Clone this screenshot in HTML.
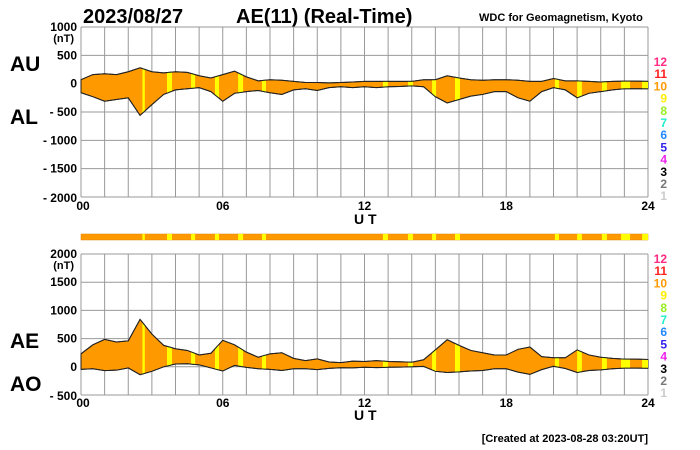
<!DOCTYPE html>
<html><head><meta charset="utf-8"><style>
html,body{margin:0;padding:0;background:#fff;}
svg{display:block;font-family:"Liberation Sans",sans-serif;}
</style></head><body>
<svg id="c" width="700" height="450" xmlns="http://www.w3.org/2000/svg">
<text x="83" y="23" font-size="20" font-weight="bold">2023/08/27</text>
<text x="236" y="23" font-size="20" font-weight="bold">AE(11) (Real-Time)</text>
<text x="479" y="21" font-size="11" font-weight="bold">WDC for Geomagnetism, Kyoto</text>
<text x="10" y="71" font-size="21" font-weight="bold">AU</text>
<text x="10" y="124" font-size="21" font-weight="bold">AL</text>
<text x="10" y="348" font-size="21" font-weight="bold">AE</text>
<text x="10" y="391" font-size="21" font-weight="bold">AO</text>
<text x="354" y="224" font-size="14" font-weight="bold">U T</text>
<text x="354" y="420" font-size="14" font-weight="bold">U T</text>
<text x="648" y="442" font-size="11" font-weight="bold" text-anchor="end">[Created at 2023-08-28 03:20UT]</text>
<g id="g"></g>
</svg>
<script>
const hours=[0,0.5,1,1.5,2,2.5,3,3.5,4,4.5,5,5.5,6,6.5,7,7.5,8,8.5,9,9.5,10,10.5,11,11.5,12,12.5,13,13.5,14,14.5,15,15.5,16,16.5,17,17.5,18,18.5,19,19.5,20,20.5,21,21.5,22,22.5,23,23.5,24];
const au=[70,160,175,160,210,280,210,190,210,200,140,100,160,220,120,50,70,60,40,20,20,15,20,30,40,40,40,40,40,70,70,140,100,70,60,70,70,60,40,40,90,50,50,40,30,40,45,45,40];
const al=[-160,-230,-310,-280,-250,-560,-370,-190,-110,-90,-70,-140,-310,-170,-140,-120,-160,-190,-110,-90,-120,-70,-55,-70,-55,-70,-55,-50,-40,-55,-230,-340,-280,-220,-190,-140,-140,-250,-310,-140,-70,-110,-250,-170,-140,-110,-90,-90,-90];
const yellowStart=[2.6,3.64,4.66,5.67,6.65,7.66,12.78,13.84,14.86,15.83,20.06,21.0,22.05,22.86,23.75];
const yellowEnd=[2.7,3.85,4.83,5.84,6.86,7.83,12.99,14.05,15.03,16.04,20.23,21.2,22.26,23.24,24];
const topTicks=[1000,500,0,-500,-1000,-1500,-2000];
const botTicks=[2000,1500,1000,500,0,-500];
const xTicks=["00","06","12","18","24"];
const levels=["12","11","10","9","8","7","6","5","4","3","2","1"];
const levelColors=["#ff2a80","#ff2020","#ff9900","#ffee00","#99ee22","#22eecc","#2288ff","#3322ee","#ee22ee","#000","#777","#ccc"];

const NS="http://www.w3.org/2000/svg",G=document.getElementById('g');
function el(t,a,p){const e=document.createElementNS(NS,t);for(const k in a)e.setAttribute(k,a[k]);(p||G).appendChild(e);return e;}
const X0=81,X1=648;
const xs=h=>X0+(X1-X0)*h/24;
function panel(id,yTop,yBot,vTop,vBot,ticks,upper,lower,xlabY,legY){
  const ys=v=>yTop+(vTop-v)/(vTop-vBot)*(yBot-yTop);
  const g=el('g',{});
  
  
  for(let h=0;h<=24;h++){const l=el('line',{x1:xs(h),x2:xs(h),y1:yTop,y2:yBot,stroke:'#999','stroke-width':1},g);
    }
  ticks.forEach((v,i)=>{const l=el('line',{x1:X0,x2:X1,y1:ys(v),y2:ys(v),stroke:'#999','stroke-width':1},g);
    
    const t=el('text',{x:77,y:ys(v)+(i==ticks.length-1?5:4),'font-size':12,'font-weight':'bold','text-anchor':'end'},g);
    t.textContent=v<0?'- '+(-v):String(v);
    });
  const nt=el('text',{x:74,y:ys(ticks[0])+15,'font-size':11,'font-weight':'bold','text-anchor':'end'},g);nt.textContent='(nT)';
  
  xTicks.forEach((s,i)=>{const t=el('text',{x:xs(i*6)+(i==0?2:0),y:xlabY,'font-size':12,'font-weight':'bold','text-anchor':'middle'},g);t.textContent=s;
    });
  let up=hours.map((h,i)=>xs(h)+','+ys(upper[i])).join(' ');
  let lo=hours.slice().reverse().map((h,j)=>{const i=hours.length-1-j;return xs(h)+','+ys(lower[i]);}).join(' ');
  const cp=el('clipPath',{id:'cl'+id},g);el('polygon',{points:up+' '+lo},cp);
  const a=el('polygon',{points:up+' '+lo,fill:'#ff9900',stroke:'#222','stroke-width':1},g);
  
  const yg=el('g',{'clip-path':'url(#cl'+id+')'},g);
  yellowStart.forEach((s,i)=>{const r=el('rect',{x:xs(s),y:yTop,width:xs(yellowEnd[i])-xs(s),height:yBot-yTop,fill:'#ffff00'},yg);
    });
  el('polyline',{points:up,fill:'none',stroke:'#222','stroke-width':1},g);
  el('polyline',{points:lo,fill:'none',stroke:'#222','stroke-width':1},g);
  levels.forEach((s,i)=>{const t=el('text',{x:667,y:legY+i*12.2,'font-size':12,'font-weight':'bold','text-anchor':'end',fill:levelColors[i]},g);t.textContent=s;
    });
}
panel('au-al',27,197,1000,-2000,topTicks,au,al,210,66);
const ae=au.map((v,i)=>v-al[i]);
const ao=au.map((v,i)=>(v+al[i])/2);
panel('ae-ao',254,395,2000,-500,botTicks,ae,ao,407,263);
const bar=el('rect',{x:X0,y:234,width:X1-X0,height:6,fill:'#ff9900',stroke:'#e08000','stroke-width':0.5});


yellowStart.forEach((s,i)=>{const r=el('rect',{x:xs(s),y:234,width:xs(yellowEnd[i])-xs(s),height:6,fill:'#ffff00'});
  
  });
</script>
</body></html>
